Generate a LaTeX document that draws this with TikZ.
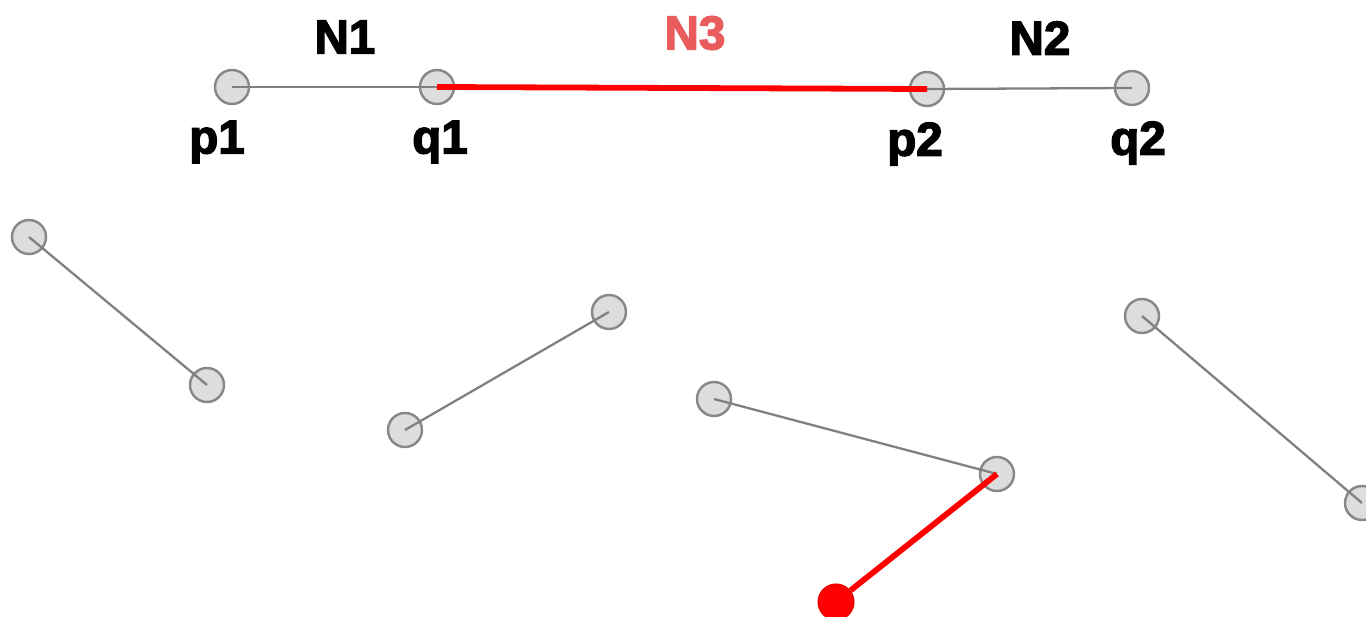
\documentclass[tikz,border=0pt]{standalone}
\usepackage{fontspec}
\newfontfamily\lblfont{Liberation Sans Bold}[FakeBold=3]
\usetikzlibrary{positioning}
\usepackage{xcolor}
\definecolor{ptfill}{HTML}{DDDDDD}
\definecolor{ptline}{HTML}{888888}
\definecolor{segline}{HTML}{808080}
\definecolor{nlabel}{HTML}{E85C5C}

\begin{document}
\begin{tikzpicture}[
    x=0.02cm, y=-0.02cm,
    node distance=1.1cm,
    pt/.style={circle, draw=ptline, fill=ptfill, line width=1.4pt, minimum size=0.68cm, inner sep=0pt},
    hitpt/.style={circle, draw=red!90!black, fill=red, line width=0.6pt, minimum size=0.72cm, inner sep=0pt},
    seg/.style={draw=segline, line width=1.3pt},
    hit/.style={draw=red, line width=3.3pt},
    lbl/.style={font=\lblfont\fontsize{27}{27}\selectfont, inner sep=0pt}
]
\clip (0,0) rectangle (1366,617);

\node[pt] (p1) at (232,87) {};
\node[pt] (q1) at (437,87) {};
\node[pt] (p2) at (927,89) {};
\node[pt] (q2) at (1132,88) {};

\node[pt] (a1) at (29,237) {};
\node[pt] (a2) at (207,385) {};
\node[pt] (b1) at (405,430) {};
\node[pt] (b2) at (609,312) {};
\node[pt] (c1) at (714,399) {};
\node[pt] (c2) at (997,474) {};
\node[pt] (d1) at (1142,316) {};
\node[pt] (d2) at (1362,503) {};
\node[hitpt] (r1) at (836,602) {};

\draw[seg] (p1.center) -- (q1.center);
\draw[seg] (p2.center) -- (q2.center);
\draw[seg] (a1.center) -- (a2.center);
\draw[seg] (b1.center) -- (b2.center);
\draw[seg] (c1.center) -- (c2.center);
\draw[seg] (d1.center) -- (d2.center);
\draw[hit] (q1.center) -- (p2.center);
\draw[hit] (c2.center) -- (r1);

\node[lbl, below of=p1, xshift=-0.3cm] (lp1) {p1};
\node[lbl, below of=q1, xshift=0.06cm] (lq1) {q1};
\node[lbl, below of=p2, xshift=-0.24cm] (lp2) {p2};
\node[lbl, below of=q2, xshift=0.12cm] (lq2) {q2};

\node[lbl] (n1) at (345,37) {N1};
\node[lbl, text=nlabel] (n3) at (695,33) {N3};
\node[lbl] (n2) at (1040,38) {N2};

\end{tikzpicture}
\end{document}
